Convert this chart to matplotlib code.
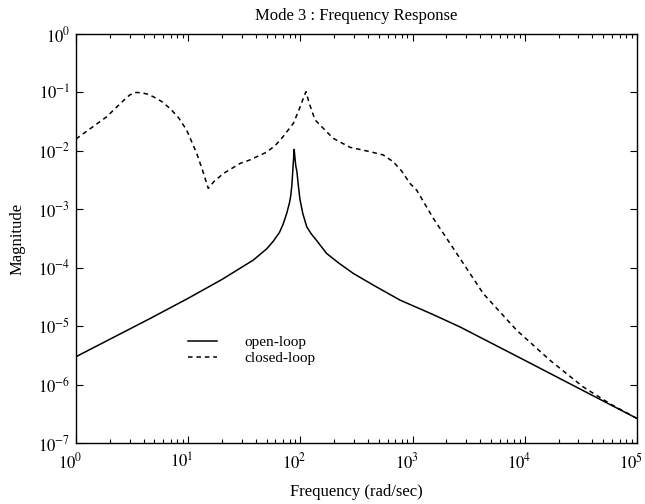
import numpy as np
import matplotlib
matplotlib.use("Agg")
import matplotlib.pyplot as plt
import matplotlib.transforms as mtransforms
from matplotlib.ticker import LogLocator, NullLocator, FuncFormatter

plt.rcParams["font.family"] = "serif"
plt.rcParams["font.serif"] = ["Liberation Serif", "DejaVu Serif"]
plt.rcParams["mathtext.fontset"] = "stix"

# open-loop magnitude
open_freq = [1, 4.57, 10, 20, 38, 50, 57, 65, 70, 75.5, 80, 82, 84, 85.5, 87, 88,
             89.5, 91, 93, 96, 99, 105, 114, 125, 140, 171, 220, 296, 450, 773,
             1500, 2645, 1e4, 3e4, 1e5]
open_mag = [3.0e-6, 1.35e-5, 3.0e-5, 6.3e-5, 1.35e-4, 2.1e-4, 2.8e-4, 4.0e-4, 5.5e-4,
            8.5e-4, 1.3e-3, 1.7e-3, 2.6e-3, 4.5e-3, 7.5e-3, 1.06e-2,
            7.5e-3, 5.5e-3, 4.5e-3, 2.5e-3, 1.5e-3, 8.5e-4, 5.0e-4, 3.8e-4, 2.9e-4,
            1.76e-4, 1.2e-4, 8.0e-5, 5.0e-5, 2.79e-5,
            1.6e-5, 9.7e-6, 2.6e-6, 8.7e-7, 2.63e-7]

# closed-loop magnitude
closed_freq = [1, 1.88, 2.3, 2.64, 3.0, 3.36, 3.8, 4.3, 4.89, 5.8, 6.88, 8.2, 9.69,
               11.9, 13.5, 15.1, 17, 20.6, 29, 35.5, 50, 60, 70, 86.5, 97, 105, 112,
               120, 135, 160, 196, 277, 417, 548, 673, 800, 948, 1087, 1530, 2470,
               4270, 8470, 16800, 33200, 57400, 1e5]
closed_mag = [0.016, 0.0384, 0.056, 0.072, 0.09, 0.1, 0.099, 0.094, 0.0845, 0.07,
              0.0534, 0.037, 0.0227, 0.0091, 0.0045, 0.00228, 0.003, 0.0041, 0.0061,
              0.007, 0.0095, 0.0125, 0.0175, 0.0295, 0.05, 0.075, 0.103, 0.065,
              0.034, 0.0243, 0.0164, 0.0115, 0.0097, 0.0085, 0.0065, 0.0045,
              0.00277, 0.00213, 7.0e-4, 1.76e-4, 3.6e-5, 8.5e-6, 2.6e-6, 9.1e-7,
              4.7e-7, 2.63e-7]

fig = plt.figure(figsize=(6.45, 5.04), dpi=100)
ax = fig.add_axes([0.1178, 0.121, 0.8698, 0.8115])

ax.loglog(open_freq, open_mag, color="black", linewidth=1.1, label="open-loop")
ax.loglog(closed_freq, closed_mag, color="black", linewidth=1.1,
          linestyle=(0, (3, 2.5)), label="closed-loop")

ax.set_xlim(1, 1e5)
ax.set_ylim(1e-7, 1)

ax.xaxis.set_major_locator(LogLocator(base=10, numticks=10))
ax.xaxis.set_minor_locator(LogLocator(base=10, subs=np.arange(2, 10), numticks=20))
ax.yaxis.set_major_locator(LogLocator(base=10, numticks=10))
ax.yaxis.set_minor_locator(NullLocator())
fmt = FuncFormatter(lambda v, p: r"$10^{%d}$" % int(round(np.log10(v))))
ax.xaxis.set_major_formatter(fmt)
ax.yaxis.set_major_formatter(fmt)

ax.tick_params(which="both", direction="in", top=True, right=True, labelsize=12,
               width=0.8)
ax.tick_params(which="major", length=5, pad=4)
ax.tick_params(axis="x", which="major", pad=7)
ax.tick_params(which="minor", length=3)
for s in ax.spines.values():
    s.set_linewidth(1.0)

# x tick labels sit a little left of their ticks in the original
shift = mtransforms.ScaledTranslation(-6 / 100, 0, fig.dpi_scale_trans)
for lbl in ax.get_xticklabels():
    lbl.set_transform(lbl.get_transform() + shift)

ax.set_title("Mode 3 : Frequency Response", fontsize=12, pad=10)
ax.set_xlabel("Frequency (rad/sec)", fontsize=12, labelpad=8)
ax.set_ylabel("Magnitude", fontsize=12, labelpad=9)

ax.legend(loc="center left", bbox_to_anchor=(0.2, 0.227), frameon=False,
          fontsize=11, handlelength=1.9, handletextpad=1.8, labelspacing=0.15,
          borderpad=0, borderaxespad=0)

fig.savefig("out.png", dpi=100)
